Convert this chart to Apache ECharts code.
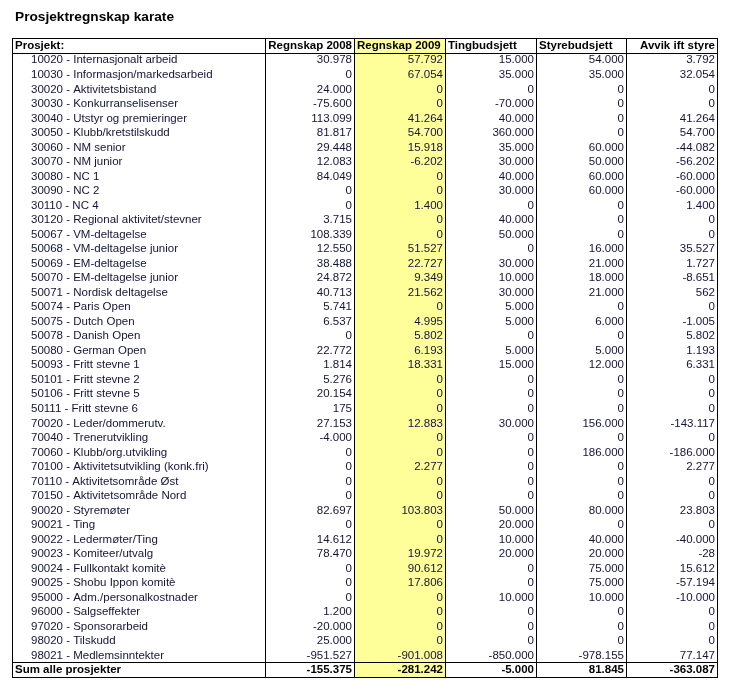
<!DOCTYPE html>
<html>
<head>
<meta charset="utf-8">
<script src="https://cdn.jsdelivr.net/npm/echarts@6/dist/echarts.min.js"></script>
<style>
  html, body { margin: 0; background: #fff; }
  #chart { width: 729px; height: 691px; }
</style>
</head>
<body>
<div id="chart"></div>
<script>
const title = 'Prosjektregnskap karate'
const headers = ['Prosjekt:', 'Regnskap 2008', 'Regnskap 2009', 'Tingbudsjett', 'Styrebudsjett', 'Avvik ift styre']
const projects = [
  '10020 - Internasjonalt arbeid', '10030 - Informasjon/markedsarbeid', '30020 - Aktivitetsbistand',
  '30030 - Konkurranselisenser', '30040 - Utstyr og premieringer', '30050 - Klubb/kretstilskudd',
  '30060 - NM senior', '30070 - NM junior', '30080 - NC 1', '30090 - NC 2', '30110 - NC 4',
  '30120 - Regional aktivitet/stevner', '50067 - VM-deltagelse', '50068 - VM-deltagelse junior',
  '50069 - EM-deltagelse', '50070 - EM-deltagelse junior', '50071 - Nordisk deltagelse',
  '50074 - Paris Open', '50075 - Dutch Open', '50078 - Danish Open', '50080 - German Open',
  '50093 - Fritt stevne 1', '50101 - Fritt stevne 2', '50106 - Fritt stevne 5', '50111 - Fritt stevne 6',
  '70020 - Leder/dommerutv.', '70040 - Trenerutvikling', '70060 - Klubb/org.utvikling',
  '70100 - Aktivitetsutvikling (konk.fri)', '70110 - Aktivitetsområde Øst', '70150 - Aktivitetsområde Nord',
  '90020 - Styremøter', '90021 - Ting', '90022 - Ledermøter/Ting', '90023 - Komiteer/utvalg',
  '90024 - Fullkontakt komitè', '90025 - Shobu Ippon komitè', '95000 - Adm./personalkostnader',
  '96000 - Salgseffekter', '97020 - Sponsorarbeid', '98020 - Tilskudd', '98021 - Medlemsinntekter'
]
const regnskap2008 = [
  30978, 0, 24000, -75600, 113099, 81817, 29448, 12083, 84049, 0, 0, 3715,
  108339, 12550, 38488, 24872, 40713, 5741, 6537, 0, 22772, 1814, 5276, 20154, 175,
  27153, -4000, 0, 0, 0, 0,
  82697, 0, 14612, 78470, 0, 0, 0, 1200, -20000, 25000, -951527
]
const regnskap2009 = [
  57792, 67054, 0, 0, 41264, 54700, 15918, -6202, 0, 0, 1400, 0,
  0, 51527, 22727, 9349, 21562, 0, 4995, 5802, 6193, 18331, 0, 0, 0,
  12883, 0, 0, 2277, 0, 0,
  103803, 0, 0, 19972, 90612, 17806, 0, 0, 0, 0, -901008
]
const tingbudsjett = [
  15000, 35000, 0, -70000, 40000, 360000, 35000, 30000, 40000, 30000, 0, 40000,
  50000, 0, 30000, 10000, 30000, 5000, 5000, 0, 5000, 15000, 0, 0, 0,
  30000, 0, 0, 0, 0, 0,
  50000, 20000, 10000, 20000, 0, 0, 10000, 0, 0, 0, -850000
]
const styrebudsjett = [
  54000, 35000, 0, 0, 0, 0, 60000, 50000, 60000, 60000, 0, 0,
  0, 16000, 21000, 18000, 21000, 0, 6000, 0, 5000, 12000, 0, 0, 0,
  156000, 0, 186000, 0, 0, 0,
  80000, 0, 40000, 20000, 75000, 75000, 10000, 0, 0, 0, -978155
]
const avvikIftStyre = [
  3792, 32054, 0, 0, 41264, 54700, -44082, -56202, -60000, -60000, 1400, 0,
  0, 35527, 1727, -8651, 562, 0, -1005, 5802, 1193, 6331, 0, 0, 0,
  -143117, 0, -186000, 2277, 0, 0,
  23803, 0, -40000, -28, 15612, -57194, -10000, 0, 0, 0, 77147
]
const sumLabel = 'Sum alle prosjekter'
const sums = [-155375, -281242, -5000, 81845, -363087]

// layout: column edges in grid units (grid is 705 wide)
const colEdges = [0, 253, 342, 433, 524, 614, 705]
const headerAlign = ['left', 'right', 'left', 'left', 'left', 'right']
const font = '"Liberation Sans", Arial, sans-serif'

// norsk tusenskille
function fmt (v) {
  const s = Math.abs(v).toString().replace(/\B(?=(\d{3})+(?!\d))/g, '.')
  return (v < 0 ? '-' : '') + s
}

const valueCols = [regnskap2008, regnskap2009, tingbudsjett, styrebudsjett, avvikIftStyre]
const rowKeys = ['header'].concat(projects, ['sum'])
const lastRow = rowKeys.length - 1

const cells = []
headers.forEach((h, c) => cells.push({ col: c, row: 0, text: h, kind: 'header' }))
projects.forEach((p, i) => {
  cells.push({ col: 0, row: i + 1, text: p, kind: 'label' })
  valueCols.forEach((arr, c) => cells.push({ col: c + 1, row: i + 1, text: fmt(arr[i]), kind: 'num' }))
})
cells.push({ col: 0, row: lastRow, text: sumLabel, kind: 'sumLabel' })
sums.forEach((v, c) => cells.push({ col: c + 1, row: lastRow, text: fmt(v), kind: 'sum' }))

function renderCell (params, api) {
  const cell = cells[params.dataIndex]
  const col = api.value(0)
  const row = api.value(1)
  const left = Math.round(api.coord([colEdges[col], row])[0])
  const right = Math.round(api.coord([colEdges[col + 1], row])[0])
  const cy = api.coord([0, row])[1]
  const h = api.size([0, 1])[1]
  const top = Math.round(cy - h / 2)
  const bottom = Math.round(cy + h / 2)
  const children = []
  const lineStyle = { stroke: '#000', lineWidth: 1 }

  if (col === 2) {
    children.push({
      type: 'rect', z2: 0,
      shape: { x: left, y: top, width: right - left, height: bottom - top },
      style: { fill: '#ffff99' }
    })
  }
  // vertical lines
  children.push({ type: 'line', z2: 10, shape: { x1: right + 0.5, y1: top, x2: right + 0.5, y2: bottom + 1 }, style: lineStyle })
  if (col === 0) {
    children.push({ type: 'line', z2: 10, shape: { x1: left + 0.5, y1: top, x2: left + 0.5, y2: bottom + 1 }, style: lineStyle })
  }
  // horizontal lines for header and sum rows
  if (row === 0 || row === lastRow) {
    children.push({ type: 'line', z2: 10, shape: { x1: left, y1: top + 0.5, x2: right + 1, y2: top + 0.5 }, style: lineStyle })
    children.push({ type: 'line', z2: 10, shape: { x1: left, y1: bottom + 0.5, x2: right + 1, y2: bottom + 0.5 }, style: lineStyle })
  }

  let align = 'right'
  let x = right - 2
  let bold = false
  let color = '#14143a'
  if (cell.kind === 'header') {
    align = headerAlign[col]
    bold = true
    color = '#000'
  } else if (cell.kind === 'label') {
    align = 'left'
  } else if (cell.kind === 'sumLabel') {
    align = 'left'
    bold = true
    color = '#000'
  } else if (cell.kind === 'sum') {
    bold = true
    color = '#000'
  }
  if (align === 'left') {
    x = left + (cell.kind === 'label' ? 19 : 3)
  }
  children.push({
    type: 'text', z2: 20,
    style: {
      x: x, y: cy + 0.5,
      text: cell.text,
      align: align,
      verticalAlign: 'middle',
      fill: color,
      font: (bold ? 'bold ' : '') + '11.5px ' + font
    }
  })
  return { type: 'group', children: children }
}

const chart = echarts.init(document.getElementById('chart'))
chart.setOption({
  animation: false,
  title: {
    text: title,
    left: 10,
    top: 5,
    textStyle: { fontSize: 13.7, fontWeight: 'bold', color: '#000', fontFamily: font }
  },
  grid: { left: 12, top: 38, width: 705, height: 639 },
  xAxis: { type: 'value', min: 0, max: 705, show: false },
  yAxis: { type: 'category', inverse: true, data: rowKeys, show: false },
  series: [{
    type: 'custom',
    renderItem: renderCell,
    data: cells.map(c => [c.col, c.row])
  }]
})
</script>
</body>
</html>
